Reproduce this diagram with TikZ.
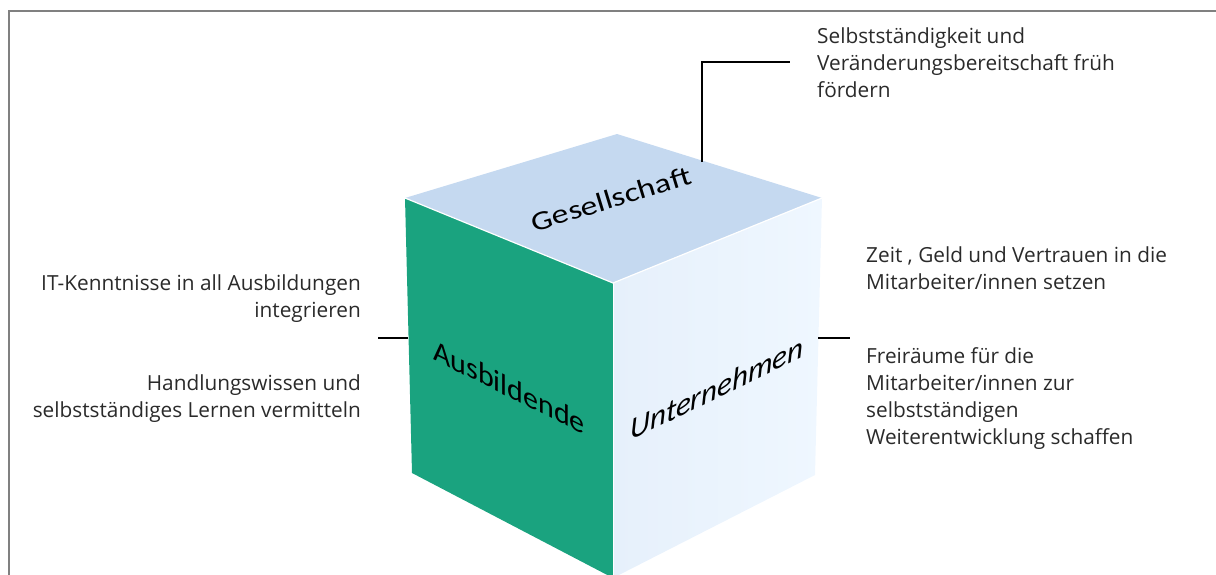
\documentclass[tikz,border=0pt]{standalone}
\usepackage{fontspec}
\setmainfont{Open Sans}
\newfontfamily\cubefont{Carlito}
\definecolor{topface}{HTML}{C5D9F0}
\definecolor{leftface}{HTML}{1AA37F}
\definecolor{rightA}{HTML}{E6F0FB}
\definecolor{rightB}{HTML}{EFF7FF}
\definecolor{frame}{HTML}{808080}
\definecolor{txt}{HTML}{2A2A2A}
\tikzset{
  note/.style={inner sep=0pt, text=txt, font=\fontsize{20.8}{27}\selectfont},
  conn/.style={draw=black, line width=1.5pt},
  facelabel/.style={inner sep=0pt, text=black, font=\cubefont\fontsize{30}{30}\selectfont},
  edgehl/.style={draw=white, line width=1.2pt}
}
\begin{document}
\begin{tikzpicture}[x=1pt,y=-1pt]
\useasboundingbox (0,0) rectangle (1216,574);
\clip (0,0) rectangle (1216,574);
% frame
\draw[frame, line width=2pt] (9,576) -- (9,11) -- (1218,11);
% cube corners
\coordinate (T) at (617,134);
\coordinate (L) at (405,198);
\coordinate (R) at (822,198);
\coordinate (F) at (613,283);
\coordinate (BL) at (412,473);
\coordinate (BR) at (815,475);
\coordinate (BF) at (613,578);
% faces
\fill[topface] (T) -- (L) -- (F) -- (R) -- cycle;
\fill[leftface] (L) -- (F) -- (BF) -- (BL) -- cycle;
\shade[left color=rightA, right color=rightB] (F) -- (R) -- (BR) -- (BF) -- cycle;
\draw[edgehl] (L) -- (F) -- (R);
\draw[white, line width=0.8pt] (F) -- (BF);
% face labels
\node[facelabel, rotate=17, xscale=1.25, font=\cubefont\fontsize{27}{27}\selectfont] (gesell) at (611,199) {Gesellschaft};
\node[facelabel, yslant=-0.5] (ausb) at (509,387) {Ausbildende};
\node[facelabel, yslant=0.48, font=\cubefont\itshape\fontsize{31}{31}\selectfont] (unter) at (717,388) {Unternehmen};
% notes
\node[note, anchor=north west, align=left] (selbst) at (817,27) {Selbstständigkeit und\\Veränderungsbereitschaft früh\\fördern};
\node[note, anchor=north east, align=right] (itk) at (361,274) {IT-Kenntnisse in all Ausbildungen\\integrieren};
\node[note, anchor=north east, align=right] (handl) at (361,374) {Handlungswissen und\\selbstständiges Lernen vermitteln};
\node[note, anchor=north west, align=left] (zeit) at (866,246) {Zeit , Geld und Vertrauen in die\\Mitarbeiter/innen setzen};
\node[note, anchor=north west, align=left] (frei) at (866,347) {Freiräume für die\\Mitarbeiter/innen zur\\selbstständigen\\Weiterentwicklung schaffen};
% connectors
\coordinate (gtop) at (702,162);
\coordinate (gbend) at (702,62);
\coordinate (gend) at (790,62);
\draw[conn] (gtop) -- (gbend) -- (gend);
\coordinate (lcA) at (378,338);
\coordinate (lcB) at (408,338);
\draw[conn] (lcA) -- (lcB);
\coordinate (rcA) at (818,338);
\coordinate (rcB) at (850,338);
\draw[conn] (rcA) -- (rcB);
\end{tikzpicture}
\end{document}
